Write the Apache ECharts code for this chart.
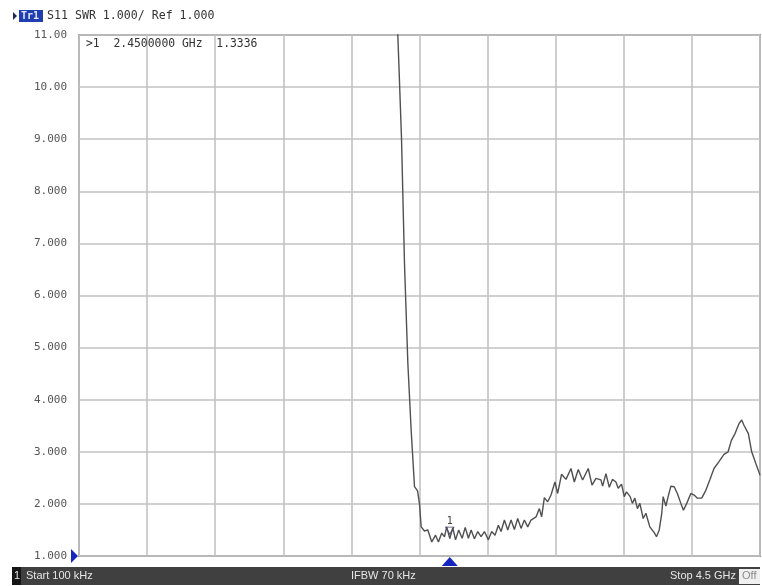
<!DOCTYPE html>
<html>
<head>
<meta charset="utf-8">
<script src="https://cdn.jsdelivr.net/npm/echarts@6/dist/echarts.min.js"></script>
<style>
  html, body { margin: 0; padding: 0; background: #ffffff; }
  #chart { width: 762px; height: 586px; }
</style>
</head>
<body>
<div id="chart"></div>
<script>
// S11 SWR sweep, frequency in GHz
const freqGHz = [
  0.0001, 1.0, 2.0, 2.092, 2.107, 2.131, 2.151, 2.173, 2.195, 2.217, 2.237, 2.250,
  2.261, 2.283, 2.305, 2.331, 2.356, 2.375, 2.397, 2.415, 2.430, 2.450, 2.470, 2.488,
  2.509, 2.532, 2.552, 2.573, 2.591, 2.613, 2.635, 2.657, 2.679, 2.705, 2.727, 2.749,
  2.771, 2.789, 2.811, 2.833, 2.855, 2.877, 2.899, 2.921, 2.943, 2.965, 2.987, 3.020,
  3.042, 3.057, 3.075, 3.097, 3.119, 3.145, 3.163, 3.189, 3.218, 3.251, 3.273, 3.299,
  3.328, 3.365, 3.390, 3.416, 3.449, 3.460, 3.482, 3.504, 3.525, 3.548, 3.563, 3.585,
  3.603, 3.618, 3.642, 3.657, 3.673, 3.690, 3.706, 3.728, 3.746, 3.772, 3.801, 3.816,
  3.834, 3.851, 3.860, 3.878, 3.893, 3.911, 3.933, 3.954, 3.977, 3.994, 4.016, 4.043,
  4.065, 4.086, 4.115, 4.142, 4.168, 4.196, 4.229, 4.262, 4.289, 4.311, 4.335, 4.361,
  4.379, 4.394, 4.423, 4.445, 4.472, 4.493, 4.5
];
const swr = [
  40, 30, 16, 11.6, 10.98, 9.03, 6.6, 4.7, 3.41, 2.33, 2.25, 2.0,
  1.56, 1.48, 1.50, 1.27, 1.40, 1.27, 1.44, 1.37, 1.56, 1.3336, 1.54, 1.31,
  1.50, 1.34, 1.55, 1.34, 1.50, 1.33, 1.47, 1.37, 1.47, 1.31, 1.47, 1.40,
  1.59, 1.47, 1.69, 1.50, 1.69, 1.51, 1.72, 1.53, 1.69, 1.56, 1.69, 1.75,
  1.91, 1.75, 2.12, 2.04, 2.17, 2.42, 2.20, 2.57, 2.47, 2.68, 2.42, 2.66,
  2.46, 2.68, 2.36, 2.49, 2.46, 2.34, 2.58, 2.32, 2.47, 2.42, 2.30, 2.38,
  2.14, 2.23, 2.14, 2.01, 2.11, 1.91, 2.01, 1.72, 1.82, 1.56, 1.45, 1.37,
  1.50, 1.82, 2.14, 1.96, 2.14, 2.34, 2.33, 2.20, 2.01, 1.88, 2.01, 2.20,
  2.17, 2.11, 2.11, 2.26, 2.46, 2.68, 2.81, 2.95, 3.00, 3.22, 3.35, 3.54,
  3.61, 3.51, 3.35, 3.00, 2.78, 2.61, 2.55
];
// Y-axis tick labels (SWR)
const yTickLabels = ['1.000', '2.000', '3.000', '4.000', '5.000', '6.000', '7.000', '8.000', '9.000', '10.00', '11.00'];
// Marker 1
const markerFreq = 2.45;
const markerSwr = 1.3336;
const markerText = '>1  2.4500000 GHz  1.3336';
const headerText = 'S11 SWR 1.000/ Ref 1.000';
const startText = 'Start 100 kHz';
const ifbwText = 'IFBW 70 kHz';
const stopText = 'Stop 4.5 GHz';

const mono = '"DejaVu Sans Mono", monospace';
const sans = '"Liberation Sans", sans-serif';
const chart = echarts.init(document.getElementById('chart'));

chart.setOption({
  animation: false,
  backgroundColor: '#ffffff',
  grid: {
    left: 79, right: 2, top: 35, bottom: 30,
    show: true, borderColor: '#9a9a9a', borderWidth: 2, backgroundColor: '#ffffff'
  },
  xAxis: {
    type: 'value', min: 0, max: 4.5, interval: 0.45,
    axisLine: { show: false }, axisTick: { show: false }, axisLabel: { show: false },
    splitLine: { show: true, lineStyle: { color: '#c2c2c2', width: 1.6 } }
  },
  yAxis: {
    type: 'value', min: 1, max: 11, interval: 1,
    axisLine: { show: false }, axisTick: { show: false },
    axisLabel: {
      margin: 12, color: '#555555', fontFamily: mono, fontSize: 11,
      formatter: (v) => yTickLabels[Math.round(v) - 1]
    },
    splitLine: { show: true, lineStyle: { color: '#c2c2c2', width: 1.6 } }
  },
  series: [{
    type: 'line',
    data: freqGHz.map((f, i) => [f, swr[i]]),
    symbol: 'none',
    clip: true,
    lineStyle: { color: '#505050', width: 1.4 },
    markPoint: {
      symbol: 'triangle', symbolSize: [8, 7], symbolRotate: 180, symbolOffset: [0, -8],
      itemStyle: { color: 'rgba(0,0,0,0)', borderColor: '#4a4a6a', borderWidth: 1 },
      label: { show: true, position: 'top', distance: 0, formatter: '1', color: '#404040', fontFamily: mono, fontSize: 10 },
      data: [{ coord: [markerFreq, markerSwr] }]
    }
  }]
});

// Header, markers on the axes and status bar
const mx = chart.convertToPixel({ gridIndex: 0 }, [markerFreq, 1])[0];
const y1 = chart.convertToPixel({ gridIndex: 0 }, [0, 1])[1];
chart.setOption({
  graphic: [
    { type: 'text', x: 86, y: 39, style: { text: markerText, font: '11.4px ' + mono, fill: '#333333' } },
    { type: 'polygon', shape: { points: [[13, 12], [17, 16], [13, 20]] }, style: { fill: '#1b2a5a' } },
    { type: 'rect', shape: { x: 19, y: 10, width: 24, height: 12 }, style: { fill: '#1f3fb0' } },
    { type: 'text', x: 21, y: 11, style: { text: 'Tr1', font: 'bold 10px ' + mono, fill: '#e8ecff' } },
    { type: 'text', x: 47, y: 10, style: { text: headerText, font: '11.6px ' + mono, fill: '#333333' } },
    { type: 'polygon', shape: { points: [[71, y1 - 7], [78, y1], [71, y1 + 7]] }, style: { fill: '#1525c0' } },
    { type: 'polygon', shape: { points: [[mx - 8, 566], [mx, 557], [mx + 8, 566]] }, style: { fill: '#1525c0' } },
    { type: 'rect', shape: { x: 12, y: 567, width: 748, height: 18 }, style: { fill: '#404040' } },
    { type: 'rect', shape: { x: 12, y: 567, width: 9, height: 18 }, style: { fill: '#151515' } },
    { type: 'text', x: 14, y: 570, style: { text: '1', font: '11px ' + sans, fill: '#e6e6e6' } },
    { type: 'text', x: 26, y: 570, style: { text: startText, font: '11px ' + sans, fill: '#e6e6e6' } },
    { type: 'text', x: 351, y: 570, style: { text: ifbwText, font: '11px ' + sans, fill: '#e6e6e6' } },
    { type: 'text', x: 670, y: 570, style: { text: stopText, font: '11px ' + sans, fill: '#e6e6e6' } },
    { type: 'rect', shape: { x: 739, y: 569, width: 21, height: 15 }, style: { fill: '#f0f0f0' } },
    { type: 'text', x: 742, y: 570, style: { text: 'Off', font: '11px ' + sans, fill: '#8a8a8a' } }
  ]
});
</script>
</body>
</html>
